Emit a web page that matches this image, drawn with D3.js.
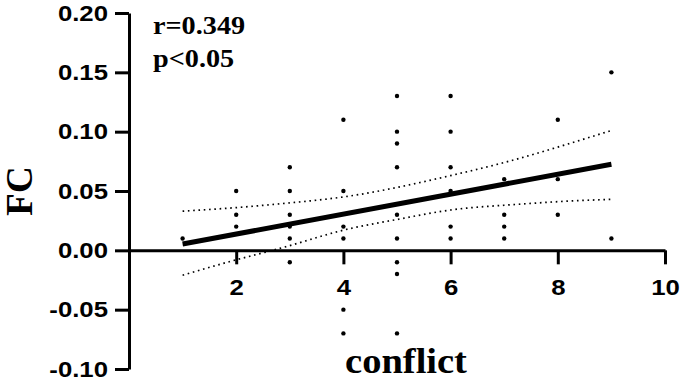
<!DOCTYPE html>
<html>
<head>
<meta charset="utf-8">
<script src="https://cdn.jsdelivr.net/npm/d3@7"></script>
<style>
  html, body { margin: 0; padding: 0; background: #fff; }
  svg { display: block; }
</style>
</head>
<body>
<svg id="chart" width="685" height="384"></svg>
<script>
// scatter points (conflict score vs FC)
const conflict = [1,
  2, 2, 2,
  3, 3, 3, 3, 3, 3,
  4, 4, 4, 4, 4, 4,
  5, 5, 5, 5, 5, 5, 5, 5, 5,
  6, 6, 6, 6, 6, 6,
  7, 7, 7, 7,
  8, 8, 8,
  9, 9];
const fc = [0.01,
  0.05, 0.03, 0.02,
  0.07, 0.05, 0.03, 0.02, 0.01, -0.01,
  0.11, 0.05, 0.02, 0.01, -0.05, -0.07,
  0.13, 0.10, 0.09, 0.07, 0.03, 0.01, -0.01, -0.02, -0.07,
  0.13, 0.10, 0.07, 0.05, 0.02, 0.01,
  0.06, 0.03, 0.02, 0.01,
  0.11, 0.06, 0.03,
  0.15, 0.01];

// fitted line
const fitX = [1, 9];
const fitY = [0.0053, 0.0725];

// 95% confidence band (dotted), read at each x
const bandX = [1, 2, 3, 4, 5, 6, 7, 8, 9];
const bandUpper = [0.033, 0.036, 0.040, 0.045, 0.053, 0.063, 0.074, 0.087, 0.101];
const bandLower = [-0.021, -0.008, 0.004, 0.017, 0.026, 0.034, 0.038, 0.041, 0.043];

const xTicks = [2, 4, 6, 8, 10];
const yTicks = [-0.10, -0.05, 0.00, 0.05, 0.10, 0.15, 0.20];

const svg = d3.select('#chart');
const sans = '"Liberation Sans", Arial, sans-serif';
const serif = '"Liberation Serif", "Times New Roman", serif';
const stretch = 1.17;

const x = d3.scaleLinear().domain([0, 10]).range([129, 665]);
const y = d3.scaleLinear().domain([-0.10, 0.20]).range([369, 13]);

// axes
const xAxis = svg.append('g')
  .attr('transform', `translate(0,${y(0)})`)
  .call(d3.axisBottom(x).tickValues(xTicks).tickSize(14).tickSizeOuter(0).tickFormat(d3.format('d')));
const yAxis = svg.append('g')
  .attr('transform', `translate(${x(0)},0)`)
  .call(d3.axisLeft(y).tickValues(yTicks).tickSize(14).tickSizeOuter(0).tickFormat(d => d.toFixed(2)));

[xAxis, yAxis].forEach(g => {
  g.selectAll('path, line').attr('stroke', '#000').attr('stroke-width', 3);
  g.selectAll('text')
    .attr('fill', '#000')
    .style('font-family', sans)
    .style('font-weight', 'bold')
    .style('font-size', '22px');
});
xAxis.selectAll('text')
  .attr('y', null).attr('dy', null)
  .attr('text-anchor', 'middle')
  .attr('transform', `translate(0,45) scale(${stretch},1)`);
yAxis.selectAll('text')
  .attr('x', null)
  .attr('text-anchor', 'end')
  .attr('transform', `translate(-21,0) scale(${stretch},1)`);

// confidence band
const bandLine = d3.line().curve(d3.curveNatural);
[bandUpper, bandLower].forEach(arr => {
  svg.append('path')
    .attr('d', bandLine(bandX.map((v, i) => [x(v), y(arr[i])])))
    .attr('fill', 'none')
    .attr('stroke', '#000')
    .attr('stroke-width', 1.7)
    .attr('stroke-dasharray', '1.6,3.7');
});

// points
svg.append('g')
  .selectAll('circle')
  .data(conflict)
  .join('circle')
  .attr('cx', d => x(d))
  .attr('cy', (d, i) => y(fc[i]))
  .attr('r', 2.2)
  .attr('fill', '#000');

// fit line
svg.append('path')
  .attr('d', d3.line()(fitX.map((v, i) => [x(v), y(fitY[i])])))
  .attr('fill', 'none')
  .attr('stroke', '#000')
  .attr('stroke-width', 5);

// annotations
const note = svg.append('g')
  .style('font-family', serif)
  .style('font-weight', 'bold')
  .style('font-size', '25px');
note.append('text').attr('transform', `translate(153,34) scale(1.13,1)`).text('r=0.349');
note.append('text').attr('transform', `translate(153,67) scale(1.13,1)`).text('p<0.05');

// axis titles
svg.append('text')
  .attr('transform', `translate(406,373) scale(1.1,1)`)
  .attr('text-anchor', 'middle')
  .style('font-family', serif)
  .style('font-weight', 'bold')
  .style('font-size', '35px')
  .text('conflict');
svg.append('text')
  .attr('transform', 'translate(32,191) rotate(-90)')
  .attr('text-anchor', 'middle')
  .style('font-family', serif)
  .style('font-weight', 'bold')
  .style('font-size', '37px')
  .text('FC');
</script>
</body>
</html>
